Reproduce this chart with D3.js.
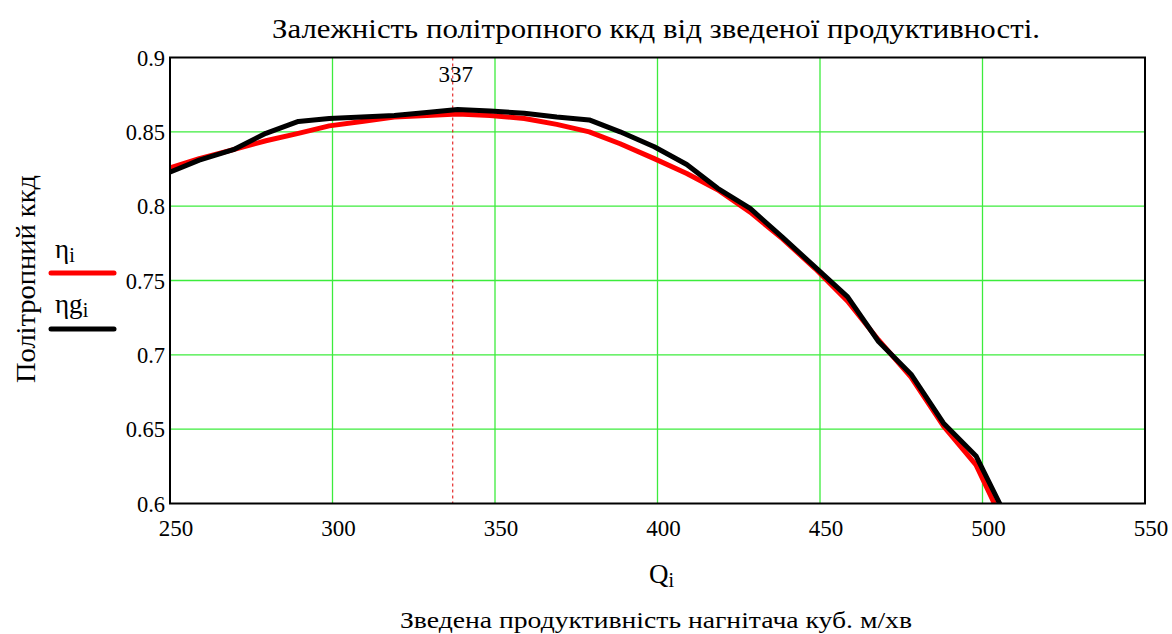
<!DOCTYPE html>
<html>
<head>
<meta charset="utf-8">
<script src="https://cdn.jsdelivr.net/npm/d3@7"></script>
<style>
  body { margin: 0; background: #fff; }
</style>
</head>
<body>
<svg id="chart" width="1172" height="634"></svg>
<script>
// Flow rate points (m³/min)
const Q = [249, 259, 269.5, 279.5, 289.5, 299, 309, 319, 329, 338.5, 348.5, 359, 369, 379,
           388.5, 399, 409, 418.5, 428.5, 438.5, 448.5, 458.5, 468, 478, 488, 498, 508];
// Polytropic efficiency, fitted curve
const eta = [0.825, 0.832, 0.838, 0.844, 0.849, 0.854, 0.857, 0.860, 0.861, 0.862,
             0.861, 0.859, 0.855, 0.850, 0.842, 0.832, 0.822, 0.811, 0.796, 0.778,
             0.758, 0.736, 0.710, 0.685, 0.652, 0.626, 0.580];
// Polytropic efficiency, measured
const etaG = [0.822, 0.831, 0.838, 0.849, 0.857, 0.859, 0.860, 0.861, 0.863, 0.865,
              0.864, 0.8625, 0.860, 0.858, 0.850, 0.840, 0.828, 0.812, 0.7985, 0.779,
              0.759, 0.739, 0.709, 0.687, 0.654, 0.632, 0.588];
const xTicks = [250, 300, 350, 400, 450, 500, 550];
const yTicks = [0.6, 0.65, 0.7, 0.75, 0.8, 0.85, 0.9];
const markerQ = 337;

const FONT = '"Liberation Serif", "Times New Roman", serif';
const svg = d3.select("#chart");
const plot = { left: 170, right: 1145, top: 57.5, bottom: 503.5 };

const x = d3.scaleLinear().domain([250, 550]).range([plot.left, plot.right]);
const y = d3.scaleLinear().domain([0.6, 0.9]).range([plot.bottom, plot.top]);

function label(sel) {
  return sel.style("font-family", FONT).attr("fill", "#000");
}

svg.append("defs").append("clipPath").attr("id", "plotClip")
  .append("rect")
  .attr("x", plot.left).attr("y", plot.top)
  .attr("width", plot.right - plot.left).attr("height", plot.bottom - plot.top);

// grid
const grid = svg.append("g").attr("stroke", "#3cec3c").attr("stroke-width", 1.3);
grid.selectAll(".gx").data(xTicks.slice(1, -1)).join("line")
  .attr("x1", d => x(d)).attr("x2", d => x(d))
  .attr("y1", plot.top).attr("y2", plot.bottom);
grid.selectAll(".gy").data(yTicks.slice(1, -1)).join("line")
  .attr("x1", plot.left).attr("x2", plot.right)
  .attr("y1", d => y(d)).attr("y2", d => y(d));

// marker line at the peak
svg.append("line")
  .attr("x1", x(markerQ)).attr("x2", x(markerQ))
  .attr("y1", plot.top).attr("y2", plot.bottom)
  .attr("stroke", "#e00000").attr("stroke-width", 1)
  .attr("stroke-dasharray", "3,3");
label(svg.append("text"))
  .attr("x", x(markerQ) + 3).attr("y", 82)
  .attr("text-anchor", "middle").attr("font-size", 23)
  .text(markerQ);

// curves
const line = d3.line().x((d, i) => x(Q[i])).y(d => y(d));
const curves = svg.append("g").attr("clip-path", "url(#plotClip)");
curves.append("path").datum(eta)
  .attr("d", line).attr("fill", "none")
  .attr("stroke", "#ff0000").attr("stroke-width", 5)
  .attr("stroke-linejoin", "round");
curves.append("path").datum(etaG)
  .attr("d", line).attr("fill", "none")
  .attr("stroke", "#000").attr("stroke-width", 5)
  .attr("stroke-linejoin", "round");

// frame
svg.append("rect")
  .attr("x", plot.left).attr("y", plot.top)
  .attr("width", plot.right - plot.left).attr("height", plot.bottom - plot.top)
  .attr("fill", "none").attr("stroke", "#000").attr("stroke-width", 2);

// tick labels
label(svg.selectAll(".xt").data(xTicks).join("text"))
  .attr("x", d => x(d) + 6).attr("y", 536)
  .attr("text-anchor", "middle").attr("font-size", 23)
  .text(d => d);
label(svg.selectAll(".yt").data(yTicks).join("text"))
  .attr("x", 165).attr("y", d => y(d) + 8)
  .attr("text-anchor", "end").attr("font-size", 22.5)
  .text(d => d3.format("")(d));

// titles
label(svg.append("text"))
  .attr("x", 656).attr("y", 38)
  .attr("text-anchor", "middle").attr("font-size", 28)
  .attr("textLength", 768).attr("lengthAdjust", "spacingAndGlyphs")
  .text("Залежність політропного ккд від зведеної продуктивності.");
const qLabel = label(svg.append("text"))
  .attr("x", 649).attr("y", 583).attr("font-size", 27);
qLabel.append("tspan").text("Q");
qLabel.append("tspan").attr("font-size", 20).attr("dy", 4).text("i");
label(svg.append("text"))
  .attr("x", 656).attr("y", 628)
  .attr("text-anchor", "middle").attr("font-size", 24)
  .attr("textLength", 512).attr("lengthAdjust", "spacingAndGlyphs")
  .text("Зведена продуктивність нагнітача куб. м/хв");
label(svg.append("text"))
  .attr("transform", "translate(35,279) rotate(-90)")
  .attr("text-anchor", "middle").attr("font-size", 27)
  .attr("textLength", 208).attr("lengthAdjust", "spacingAndGlyphs")
  .text("Політропний ккд");

// legend
const legend = [
  { name: "η", sub: "i", color: "#ff0000", ty: 258, ly: 273 },
  { name: "ηg", sub: "i", color: "#000", ty: 313, ly: 329 }
];
legend.forEach(l => {
  const t = label(svg.append("text")).attr("x", 55).attr("y", l.ty).attr("font-size", 27);
  t.append("tspan").text(l.name);
  t.append("tspan").attr("font-size", 20).attr("dy", 4).text(l.sub);
  svg.append("line")
    .attr("x1", 51).attr("x2", 114).attr("y1", l.ly).attr("y2", l.ly)
    .attr("stroke", l.color).attr("stroke-width", 5).attr("stroke-linecap", "round");
});
</script>
</body>
</html>
